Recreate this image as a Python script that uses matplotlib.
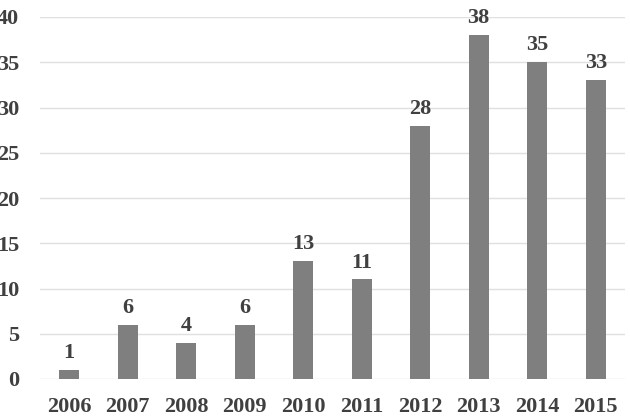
import matplotlib
matplotlib.use("Agg")
import matplotlib.pyplot as plt

years = ["2006", "2007", "2008", "2009", "2010", "2011", "2012", "2013", "2014", "2015"]
counts = [1, 6, 4, 6, 13, 11, 28, 38, 35, 33]
yticks = [0, 5, 10, 15, 20, 25, 30, 35, 40]

plt.rcParams['font.family'] = ['Liberation Serif', 'DejaVu Serif']
plt.rcParams['font.weight'] = 'bold'

fig = plt.figure(figsize=(6.3, 4.16), dpi=100)
ax = fig.add_axes([40 / 630, 37 / 416, 585 / 630, 362 / 416])

x = list(range(len(years)))
bars = ax.bar(x, counts, width=0.34, color='#7f7f7f', zorder=3)
ax.bar_label(bars, padding=5, fontsize=16, fontweight='bold', color='#404040')

ax.set_xlim(-0.5, len(years) - 0.5)
ax.set_ylim(0, 40)
ax.set_yticks(yticks)
ax.set_xticks(x)
ax.set_xticklabels(years)
ax.yaxis.grid(True, color='#e0e0e0', linewidth=1, zorder=0)
ax.tick_params(axis='both', length=0, labelsize=16, labelcolor='#404040')
ax.tick_params(axis='y', pad=15)
ax.tick_params(axis='x', pad=13)
for s in ax.spines.values():
    s.set_visible(False)

fig.savefig("out.png", dpi=100)
